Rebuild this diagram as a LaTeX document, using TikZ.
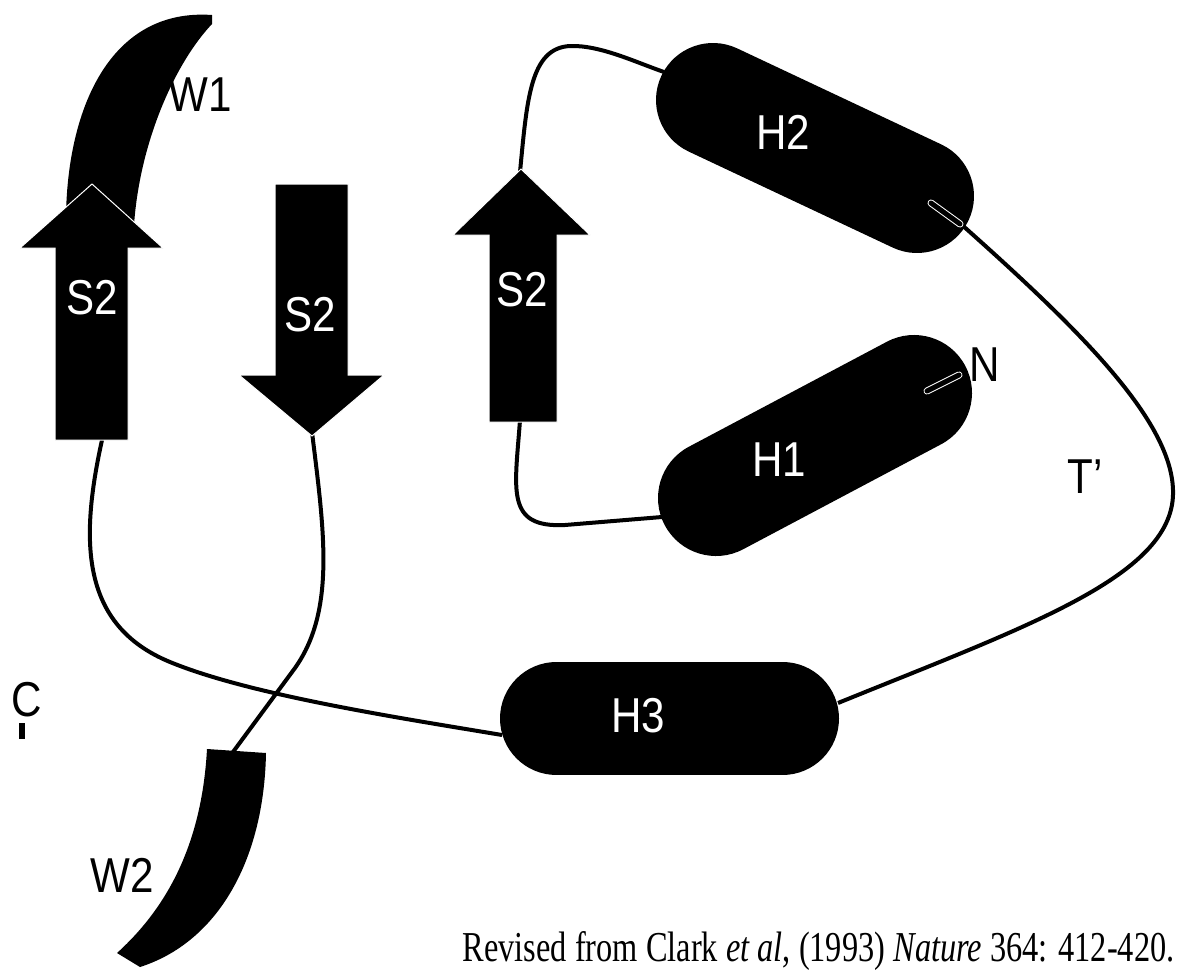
\documentclass[tikz,border=0pt]{standalone}
\usepackage{fontspec}
\newfontfamily\labfont[FakeStretch=0.86]{Liberation Sans}
\newfontfamily\footfont[FakeStretch=0.76]{Liberation Serif}
\begin{document}
\begin{tikzpicture}[x=0.5pt,y=-0.5pt,
  conn/.style={line width=2pt, black},
  sheet/.style={fill=black, draw=white, line width=0.5pt, line join=miter},
  helix/.style={line width=#1, line cap=round, black},
  lab/.style={font=\labfont\fontsize{24.5}{24.5}\selectfont, inner sep=0pt},
  labw/.style={lab, text=white},
  slotout/.style={white, line width=3.5pt, line cap=round},
  slotin/.style={black, line width=2.5pt, line cap=round}]
\fill[white] (0,0) rectangle (1177,969);
\useasboundingbox (0,0) rectangle (1177,969);
% helix centres
\coordinate (H2a) at (713,100); \coordinate (H2b) at (917,196);
\coordinate (H1a) at (716,498); \coordinate (H1b) at (914,393);
\coordinate (H3a) at (556.5,718.5); \coordinate (H3b) at (782.5,718.5);
% connector ends
\coordinate (A1bot) at (102,440);
\coordinate (A2tip) at (312,432);
\coordinate (A3top) at (520,172);
\coordinate (A3bot) at (520,420);
\coordinate (W2top) at (233,752);
\coordinate (H1in) at (662,517);
\coordinate (H2in) at (664,72);
\coordinate (H2out) at (962,225);
\coordinate (H3in) at (502,735);
\coordinate (H3out) at (838,703);
% connectors
\draw[conn] (A3bot) .. controls (515,490) and (505,528) .. (565,525) -- (H1in);
\draw[conn] (A3top) .. controls (527,100) and (530,48) .. (570,46) .. controls (600,45) and (635,62) .. (H2in);
\draw[conn] (A2tip) .. controls (324,530) and (336,610) .. (295,668) -- (W2top);
\draw[conn] (A1bot) .. controls (80,540) and (80,625) .. (170,662) .. controls (250,695) and (400,718) .. (H3in);
\draw[conn] (H3out) .. controls (1030,625) and (1176,575) .. (1173,490) .. controls (1171,420) and (1080,330) .. (H2out);
% wings
\fill[black] (66,215) .. controls (68,105) and (112,8) .. (212,15) -- (212,24) .. controls (176,62) and (140,140) .. (134,225) -- cycle;
\fill[black] (207,749) -- (266,753) .. controls (264,860) and (218,942) .. (140,967) -- (117,953) .. controls (170,905) and (202,840) .. (207,749) -- cycle;
% strands
\path[sheet] (55,440) -- (55,248) -- (20,248) -- (92,184) -- (163,248) -- (128,248) -- (128,440) -- cycle;
\path[sheet] (275,184) -- (348,184) -- (348,375) -- (384,375) -- (312,436) -- (239,375) -- (275,375) -- cycle;
\path[sheet] (489,422) -- (489,235) -- (453,235) -- (521,169) -- (590,235) -- (557,235) -- (557,422) -- cycle;
% helices
\draw[helix=57pt] (H2a) -- (H2b);
\draw[helix=58pt] (H1a) -- (H1b);
\draw[helix=56.5pt] (H3a) -- (H3b);
% chain inside helices
\draw[slotout] (931,203) -- (960,224);
\draw[slotin] (931,203) -- (960,224);
\draw[slotout] (927,391) -- (959,375);
\draw[slotin] (927,391) -- (959,375);
% C terminus stub
\coordinate (Cend) at (22,723);
\coordinate (Cfoot) at (22,739);
\draw[line width=3pt] (Cend) -- (Cfoot);
% labels
\node[labw] (lS2a) at (92,298) {S2};
\node[labw] (lS2b) at (310,315) {S2};
\node[labw] (lS2c) at (522,290) {S2};
\node[labw] (lH2) at (783,132) {H2};
\node[labw] (lH1) at (779,460) {H1};
\node[labw] (lH3) at (638,716) {H3};
\node[lab] (lW1) at (200,95) {W1};
\node[lab] (lW2) at (122,875) {W2};
\node[lab] (lN) at (985,365) {N};
\node[lab] (lT) at (1085,477) {T’};
\node[lab] (lC) at (27,700) {C};
\node[anchor=base east, inner sep=0pt, font=\footfont\fontsize{21.3}{22}\selectfont] (cite) at (1175,961) {Revised from Clark \textit{et al}, (1993) \textit{Nature} 364: 412-420.};
\end{tikzpicture}
\end{document}
